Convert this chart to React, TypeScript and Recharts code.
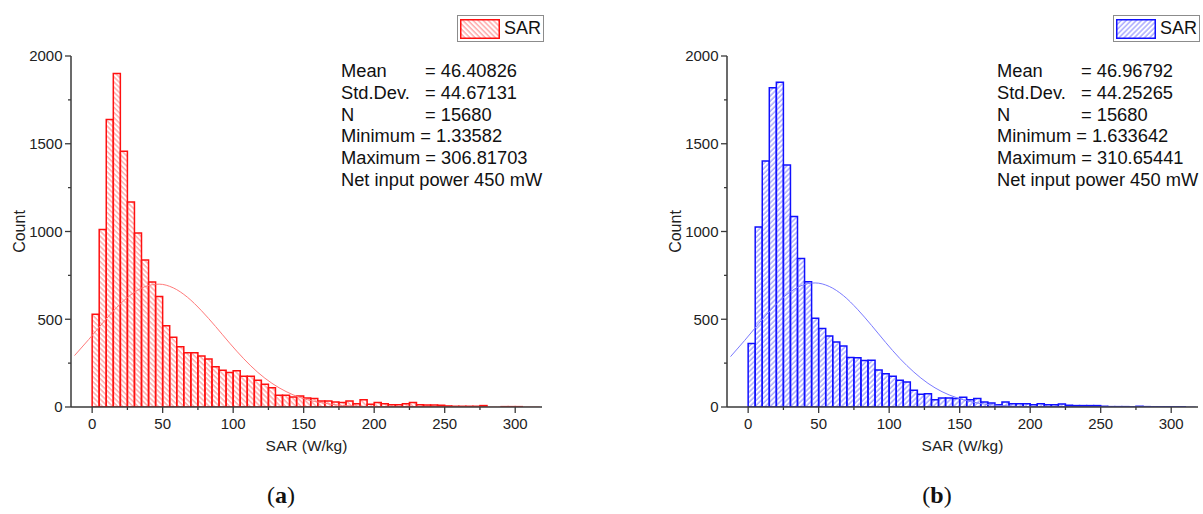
import { Bar, ComposedChart, Label, Legend, Line, XAxis, YAxis } from "recharts";

// histogram bins are 5 W/kg wide, first bin starts at 0
const binWidth = 5;

// counts per bin, (a) 450 mW case, red
const countsA = [
  528, 1011, 1638, 1900, 1457, 1168, 992, 838, 712, 629,
  463, 398, 343, 309, 309, 290, 274, 229, 210, 196,
  206, 175, 175, 152, 130, 110, 67, 67, 57, 63,
  51, 48, 34, 34, 29, 25, 34, 19, 42, 15,
  25, 19, 13, 13, 19, 25, 13, 11, 11, 10,
  6, 4, 4, 4, 4, 8, null, null, 2, 2,
  2, null,
];

// counts per bin, (b), blue
const countsB = [
  362, 1025, 1402, 1819, 1851, 1379, 1086, 846, 714, 505,
  448, 404, 370, 347, 282, 280, 265, 267, 211, 189,
  175, 152, 143, 96, 72, 76, 42, 51, 51, 48,
  55, 42, 48, 29, 23, 13, 29, 19, 19, 19,
  13, 19, 13, 13, 17, 10, 8, 8, 8, 8,
  4, 2, 2, 2, 1, 4, 2, 1, 1, 1,
  1, 1,
];

// fitted normal curve, every 10 W/kg starting at -12.5
const fitA = [
  293, 384, 479, 568, 640, 686, 700, 679, 626, 549, 459, 364, 275, 197, 135, 88, 54,
  32, 18, 9, 5, 2, 1, 0, 0, 0, 0, 0, 0, 0, 0, 0, 0, 0,
];
const fitB = [
  287, 379, 475, 566, 642, 691, 707, 687, 635, 557, 465, 368, 277, 199, 135, 87, 54,
  31, 17, 9, 5, 2, 1, 0, 0, 0, 0, 0, 0, 0, 0, 0, 0, 0,
];

const statNames = ["Mean", "Std.Dev.", "N", "Minimum", "Maximum"];
const statsA = ["= 46.40826", "= 44.67131", "= 15680", "= 1.33582", "= 306.81703"];
const statsB = ["= 46.96792", "= 44.25265", "= 15680", "= 1.633642", "= 310.65441"];
const powerNote = "Net input power 450 mW";

const xTicks = [0, 25, 50, 75, 100, 125, 150, 175, 200, 225, 250, 275, 300];
const yTicks = [0, 250, 500, 750, 1000, 1250, 1500, 1750, 2000];
const xDomain: [number, number] = [-15, 319];
const yDomain: [number, number] = [0, 2000];

const FONT = '"Liberation Sans", Arial, sans-serif';
const AXIS = "#3a3a3a";

const CHART_W = 560;
const CHART_H = 470;
const margin = { top: 56, right: 18, bottom: 13, left: 11 };
const Y_AXIS_W = 60;
const plotW = CHART_W - margin.left - margin.right - Y_AXIS_W;
const barSize = (binWidth * plotW) / (xDomain[1] - xDomain[0]) - 0.01;

function buildTable(counts: (number | null)[], fit: number[]) {
  const rows = [];
  // three half-steps left of zero so the curve reaches the axis
  for (let i = 0; i < 67; i++) {
    const bin = i - 3;
    rows.push({
      x: -12.5 + i * binWidth,
      count: bin >= 0 && bin < counts.length ? counts[bin] : null,
      fit: i % 2 === 0 ? fit[i / 2] ?? null : null,
    });
  }
  return rows;
}

function XTick(props: any) {
  const { x, y, payload } = props;
  const major = payload.value % 50 === 0;
  return (
    <g>
      <line x1={x} x2={x} y1={y} y2={y + (major ? 6 : 3)} stroke={AXIS} strokeWidth={1.3} />
      {major && (
        <text x={x} y={y + 22} textAnchor="middle" fontSize={15} fill="#222" fontFamily={FONT}>
          {payload.value}
        </text>
      )}
    </g>
  );
}

function YTick(props: any) {
  const { x, y, payload } = props;
  const major = payload.value % 500 === 0;
  return (
    <g>
      <line x1={x} x2={x - (major ? 6 : 3)} y1={y} y2={y} stroke={AXIS} strokeWidth={1.3} />
      {major && (
        <text x={x - 8.5} y={y + 5.4} textAnchor="end" fontSize={15} fill="#222" fontFamily={FONT}>
          {payload.value}
        </text>
      )}
    </g>
  );
}

function LegendBox({ color, hatchId }: { color: string; hatchId: string }) {
  return (
    <div
      style={{
        display: "flex",
        alignItems: "center",
        boxSizing: "border-box",
        width: 87,
        height: 27,
        border: "1.5px solid #8c8c8c",
        background: "#fff",
        padding: "0 0 0 2px",
        fontFamily: FONT,
        fontSize: 18,
        color: "#111",
      }}
    >
      <svg width={40} height={20}>
        <rect x={0.75} y={0.75} width={38.5} height={18.5} fill={`url(#${hatchId})`} stroke={color} strokeWidth={1.5} />
      </svg>
      <span style={{ marginLeft: 4 }}>SAR</span>
    </div>
  );
}

function Histogram({
  counts,
  fit,
  color,
  hatchColor,
  curveColor,
  hatchId,
  angle,
  stats,
}: {
  counts: (number | null)[];
  fit: number[];
  color: string;
  hatchColor: string;
  curveColor: string;
  hatchId: string;
  angle: number;
  stats: string[];
}) {
  const data = buildTable(counts, fit);
  return (
    <div style={{ position: "relative", width: CHART_W, height: CHART_H }}>
      <ComposedChart width={CHART_W} height={CHART_H} data={data} margin={margin} barCategoryGap={0} barGap={0}>
        <defs>
          <pattern id={hatchId} width={3.6} height={3.6} patternUnits="userSpaceOnUse" patternTransform={`rotate(${angle})`}>
            <line x1={1} y1={0} x2={1} y2={3.6} stroke={hatchColor} strokeWidth={1.1} />
          </pattern>
        </defs>
        <XAxis
          dataKey="x"
          type="number"
          domain={xDomain}
          allowDataOverflow
          ticks={xTicks}
          interval={0}
          tick={<XTick />}
          tickLine={false}
          tickSize={0}
          tickMargin={0}
          height={50}
          axisLine={{ stroke: AXIS, strokeWidth: 1.5 }}
        >
          <Label value="SAR (W/kg)" position="insideBottom" offset={6} fontSize={15.5} fill="#222" fontFamily={FONT} />
        </XAxis>
        <XAxis
          xAxisId="top"
          orientation="top"
          type="number"
          domain={xDomain}
          allowDataOverflow
          tick={false}
          tickLine={false}
          height={0}
          axisLine={{ stroke: AXIS, strokeWidth: 1.5 }}
        />
        <YAxis
          type="number"
          domain={yDomain}
          allowDataOverflow
          ticks={yTicks}
          interval={0}
          tick={<YTick />}
          tickLine={false}
          tickSize={0}
          tickMargin={0}
          width={Y_AXIS_W}
          axisLine={{ stroke: AXIS, strokeWidth: 1.5 }}
        >
          <Label
            value="Count"
            angle={-90}
            position="insideLeft"
            offset={8.5}
            fontSize={16}
            fill="#222"
            fontFamily={FONT}
            style={{ textAnchor: "middle" }}
          />
        </YAxis>
        <YAxis
          yAxisId="right"
          orientation="right"
          domain={yDomain}
          tick={false}
          tickLine={false}
          width={0}
          axisLine={{ stroke: AXIS, strokeWidth: 1.5 }}
        />
        <Bar
          dataKey="count"
          fill={`url(#${hatchId})`}
          stroke={color}
          strokeWidth={1.5}
          barSize={barSize}
          isAnimationActive={false}
        />
        <Line
          dataKey="fit"
          type="monotone"
          stroke={curveColor}
          strokeWidth={1}
          dot={false}
          activeDot={false}
          connectNulls
          isAnimationActive={false}
        />
        <Legend
          layout="vertical"
          align="center"
          verticalAlign="middle"
          wrapperStyle={{ left: 457, top: 15, width: 87, height: 27 }}
          content={() => <LegendBox color={color} hatchId={hatchId} />}
        />
      </ComposedChart>
      <div
        style={{
          position: "absolute",
          left: 341,
          top: 60,
          fontFamily: FONT,
          fontSize: 18.3,
          lineHeight: "21.8px",
          color: "#111",
          whiteSpace: "pre",
        }}
      >
        {statNames.map((name, i) =>
          i < 3 ? (
            <div key={name} style={{ position: "relative" }}>
              <span>{name}</span>
              <span style={{ position: "absolute", left: 84 }}>{stats[i]}</span>
            </div>
          ) : (
            <div key={name}>{`${name} ${stats[i]}`}</div>
          )
        )}
        <div>{powerNote}</div>
      </div>
    </div>
  );
}

export default function App() {
  return (
    <div style={{ position: "absolute", left: 0, top: 0, width: 1203, height: 514, background: "#fff" }}>
      <div style={{ position: "absolute", left: 0, top: 0 }}>
        <Histogram
          counts={countsA}
          fit={fitA}
          color="#ff1010"
          hatchColor="#ff8c8c"
          curveColor="#ff7a7a"
          hatchId="hatchA"
          angle={-45}
          stats={statsA}
        />
      </div>
      <div style={{ position: "absolute", left: 656, top: 0 }}>
        <Histogram
          counts={countsB}
          fit={fitB}
          color="#1010ff"
          hatchColor="#8c8cff"
          curveColor="#7a7aff"
          hatchId="hatchB"
          angle={45}
          stats={statsB}
        />
      </div>
      {["a", "b"].map((tag, i) => (
        <div
          key={tag}
          style={{
            position: "absolute",
            left: i === 0 ? 231 : 887,
            top: 482,
            width: 100,
            textAlign: "center",
            fontFamily: '"Liberation Serif", "Times New Roman", serif',
            fontSize: 24,
            color: "#111",
          }}
        >
          (<b>{tag}</b>)
        </div>
      ))}
    </div>
  );
}
